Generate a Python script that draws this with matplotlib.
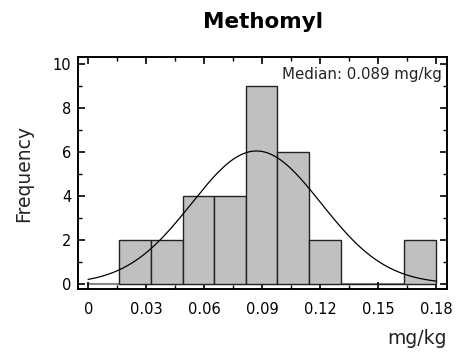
import numpy as np
import matplotlib
matplotlib.use("Agg")
import matplotlib.pyplot as plt
from matplotlib.ticker import MultipleLocator

# histogram bins (mg/kg) and counts
bin_start = 0.016
bin_width = 0.01638
counts = [2, 2, 4, 4, 9, 6, 2, 0, 0, 2]
# fitted normal curve
fit_mean = 0.087
fit_sd = 0.0335
curve_range = [0.0, 0.18]

xticks = [0, 0.03, 0.06, 0.09, 0.12, 0.15, 0.18]
xticklabels = ["0", "0.03", "0.06", "0.09", "0.12", "0.15", "0.18"]
yticks = [0, 2, 4, 6, 8, 10]

plt.rcParams['font.family'] = ['DejaVu Sans']

fig = plt.figure(figsize=(4.6, 3.55), dpi=100)
ax = fig.add_axes([0.1696, 0.1859, 0.8021, 0.6535])

lefts = bin_start + bin_width * np.arange(len(counts))
ax.bar(lefts, counts, width=bin_width, align='edge', color='#c0c0c0',
       edgecolor='#222222', linewidth=1.0, zorder=2)
# zero-height bins drawn as a flat grey line
ax.plot([curve_range[0], curve_range[1]], [0, 0], color='#888888', lw=1.5, zorder=1)

n = sum(counts)
xs = np.linspace(curve_range[0], curve_range[1], 300)
ys = n * bin_width / (fit_sd * np.sqrt(2 * np.pi)) * np.exp(-(xs - fit_mean) ** 2 / (2 * fit_sd ** 2))
ax.plot(xs, ys, color='black', lw=0.9, zorder=3)

ax.set_xlim(-0.0053, 0.1856)
ax.set_ylim(-0.23, 10.32)
ax.set_xticks(xticks)
ax.set_xticklabels(xticklabels)
ax.set_yticks(yticks)
ax.xaxis.set_minor_locator(MultipleLocator(0.015))
ax.yaxis.set_minor_locator(MultipleLocator(1))
ax.tick_params(which='both', direction='in', top=True, right=True, labelsize=10.5)
ax.tick_params(which='major', length=5, width=1.2)
ax.tick_params(which='minor', length=3, width=1.0)
ax.tick_params(axis='x', pad=9)
ax.tick_params(axis='y', pad=5)
for s in ax.spines.values():
    s.set_linewidth(1.4)

ax.text(0.985, 0.955, "Median: 0.089 mg/kg", transform=ax.transAxes,
        ha='right', va='top', fontsize=10.8, color='#222222')
ax.set_ylabel("Frequency", fontsize=13.5, labelpad=14, color='#222222')
fig.text(0.972, 0.02, "mg/kg", ha='right', va='bottom', fontsize=13.5, color='#222222')
fig.suptitle("Methomyl", fontsize=15.5, fontweight='bold', x=0.572, y=0.965)

fig.savefig("out.png", dpi=100)
